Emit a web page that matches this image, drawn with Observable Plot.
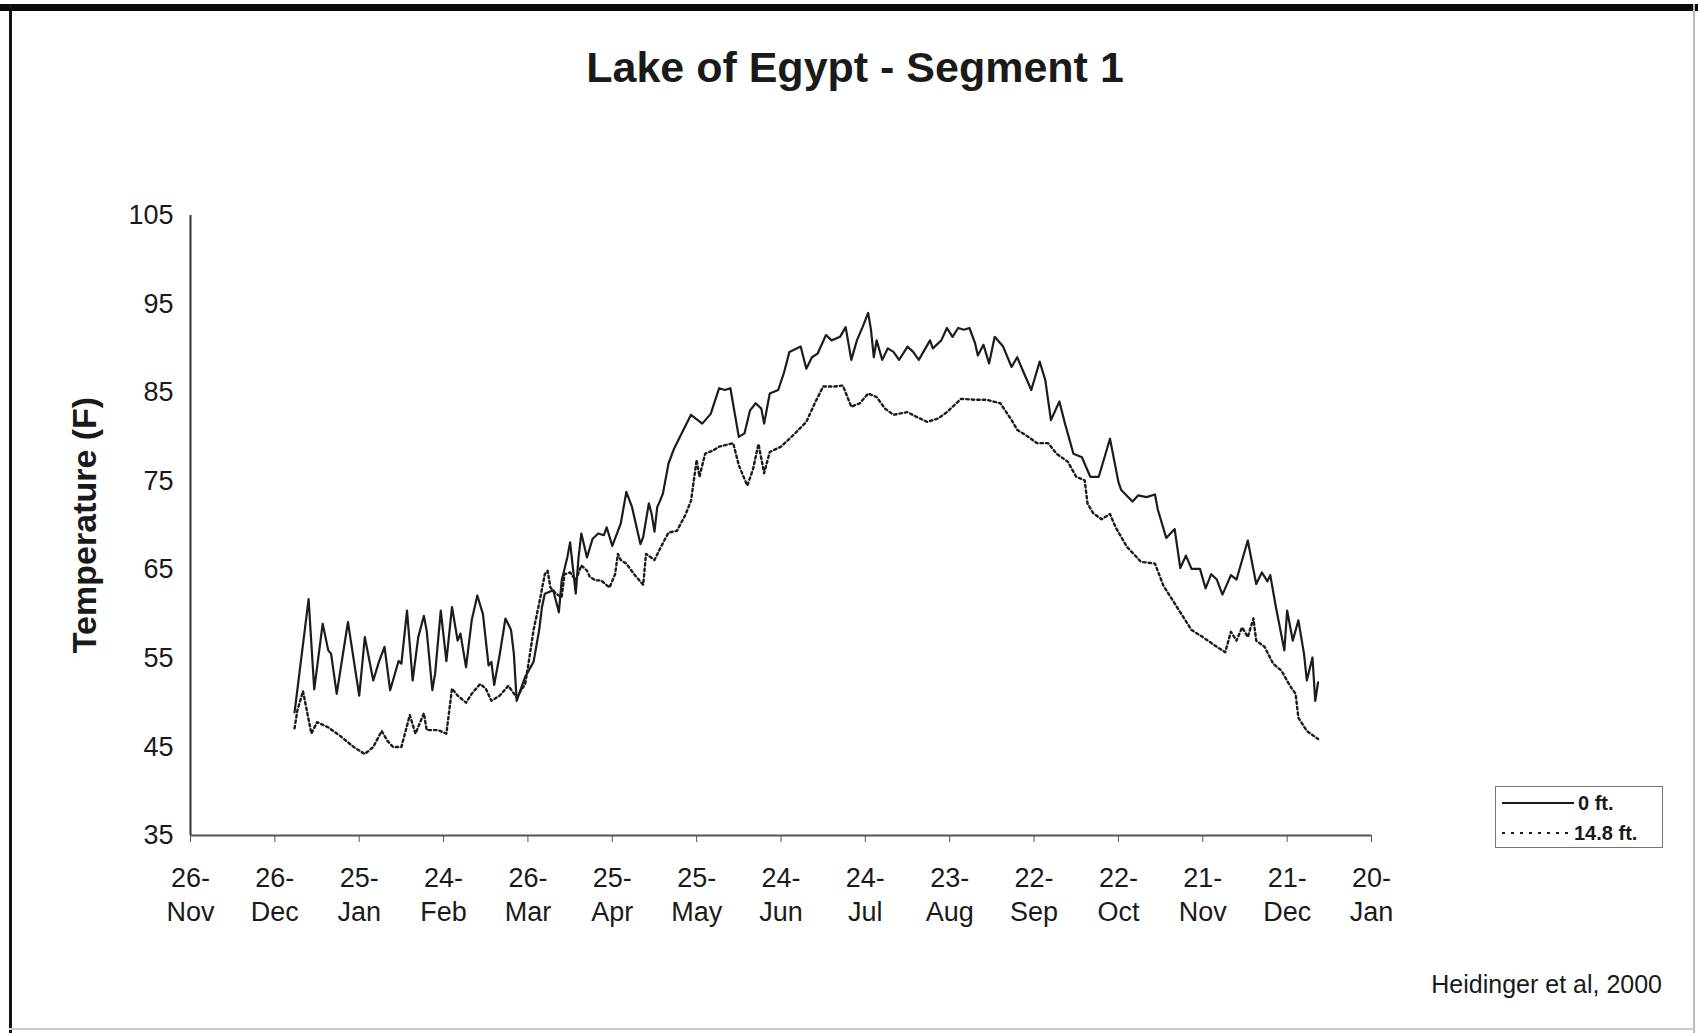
<!DOCTYPE html>
<html>
<head>
<meta charset="utf-8">
<script src="https://cdn.jsdelivr.net/npm/d3@7"></script>
<script src="https://cdn.jsdelivr.net/npm/@observablehq/plot@0.6"></script>
<style>
  html, body { margin: 0; padding: 0; background: #fff; }
  #page { position: relative; width: 1698px; height: 1033px; overflow: hidden; background: #fff;
          font-family: "Liberation Sans", Arial, sans-serif; color: #1a1a1a; }
  #chart { position: absolute; left: 0; top: 0; }
  .frame-top { position: absolute; left: 0; top: 4px; width: 1698px; height: 7px; background: #0a0a0a; }
  .frame-left { position: absolute; left: 9px; top: 4px; width: 3px; height: 1029px; background: #111; }
  .frame-right { position: absolute; left: 1693px; top: 4px; width: 2px; height: 1029px; background: #bbb; }
  .frame-bottom { position: absolute; left: 9px; top: 1028px; width: 1686px; height: 2px; background: #ccc; }
  #title { position: absolute; left: 855px; top: 43px; transform: translateX(-50%); white-space: nowrap;
           font-weight: bold; font-size: 43px; color: #1a1a1a; }
  #ytitle { position: absolute; left: 84px; top: 525px; transform: translate(-50%, -50%) rotate(-90deg);
            white-space: nowrap; font-weight: bold; font-size: 34px; color: #1a1a1a; }
  #legend { position: absolute; left: 1495px; top: 786px; width: 168px; height: 62px; box-sizing: border-box;
            border: 1.5px solid #777; background: #fff; }
  .lg-row { position: absolute; left: 5px; display: flex; align-items: center; height: 24px; }
  .lg-row span { font-weight: bold; font-size: 20px; color: #1a1a1a; margin-left: 3px; }
  #caption { position: absolute; right: 36px; top: 970px; white-space: nowrap; font-size: 25px; color: #1a1a1a; }
</style>
</head>
<body>
<div id="page">
  <div id="chart"></div>
  <div class="frame-top"></div>
  <div class="frame-left"></div>
  <div class="frame-right"></div>
  <div class="frame-bottom"></div>
  <div id="title">Lake of Egypt - Segment 1</div>
  <div id="ytitle">Temperature (F)</div>
  <div id="legend">
    <div class="lg-row" style="top:4px"><svg width="74" height="10"><line x1="1" y1="5" x2="73" y2="5" stroke="#1a1a1a" stroke-width="2"/></svg><span>0 ft.</span></div>
    <div class="lg-row" style="top:34px"><svg width="70" height="10"><line x1="1" y1="5" x2="69" y2="5" stroke="#1a1a1a" stroke-width="2" stroke-dasharray="3,6"/></svg><span>14.8 ft.</span></div>
  </div>
  <div id="caption">Heidinger et al, 2000</div>
</div>
<script>
// ---- Data ----
const seriesNames = ["0 ft.", "14.8 ft."];

const dates0 = ["1999-01-02","1999-01-07","1999-01-09","1999-01-12","1999-01-14","1999-01-15","1999-01-17","1999-01-21","1999-01-25","1999-01-27","1999-01-30",
"1999-02-01","1999-02-03","1999-02-05","1999-02-08","1999-02-09","1999-02-11","1999-02-13","1999-02-15","1999-02-17","1999-02-18","1999-02-20","1999-02-21","1999-02-23","1999-02-25","1999-02-27",
"1999-03-01","1999-03-02","1999-03-04","1999-03-06","1999-03-08","1999-03-10","1999-03-12","1999-03-13","1999-03-14","1999-03-16","1999-03-18","1999-03-20","1999-03-21","1999-03-22","1999-03-25","1999-03-28","1999-03-30","1999-03-31",
"1999-04-01","1999-04-04","1999-04-06","1999-04-07","1999-04-09","1999-04-10","1999-04-12","1999-04-13","1999-04-14","1999-04-16","1999-04-18","1999-04-20","1999-04-22","1999-04-23","1999-04-25","1999-04-28","1999-04-30",
"1999-05-02","1999-05-05","1999-05-06","1999-05-08","1999-05-09","1999-05-10","1999-05-11","1999-05-12","1999-05-13","1999-05-15","1999-05-17","1999-05-20","1999-05-23","1999-05-27","1999-05-30",
"1999-06-02","1999-06-04","1999-06-06","1999-06-09","1999-06-11","1999-06-13","1999-06-15","1999-06-17","1999-06-18","1999-06-20","1999-06-23","1999-06-25","1999-06-27",
"1999-07-01","1999-07-03","1999-07-05","1999-07-07","1999-07-10","1999-07-12","1999-07-15","1999-07-17","1999-07-19","1999-07-21","1999-07-23","1999-07-25","1999-07-26","1999-07-27","1999-07-28","1999-07-30",
"1999-08-01","1999-08-03","1999-08-05","1999-08-08","1999-08-10","1999-08-12","1999-08-16","1999-08-17","1999-08-20","1999-08-22","1999-08-24","1999-08-26","1999-08-28","1999-08-30",
"1999-09-01","1999-09-02","1999-09-04","1999-09-06","1999-09-08","1999-09-11","1999-09-14","1999-09-16","1999-09-18","1999-09-21","1999-09-24","1999-09-26","1999-09-28",
"1999-10-01","1999-10-03","1999-10-06","1999-10-09","1999-10-12","1999-10-15","1999-10-19","1999-10-22","1999-10-23","1999-10-27","1999-10-29",
"1999-11-01","1999-11-04","1999-11-05","1999-11-08","1999-11-11","1999-11-13","1999-11-15","1999-11-17","1999-11-20","1999-11-22","1999-11-24","1999-11-26","1999-11-28",
"1999-12-01","1999-12-03","1999-12-07","1999-12-10","1999-12-12","1999-12-14","1999-12-15","1999-12-17","1999-12-20","1999-12-21","1999-12-23","1999-12-25","1999-12-27","1999-12-28","1999-12-30","1999-12-31","2000-01-01"];
const temp0 = [48.9,61.7,51.5,58.9,55.9,55.5,51.0,59.1,50.8,57.4,52.5,
54.6,56.3,51.4,54.7,54.4,60.4,52.5,57.4,59.8,58.1,51.4,53.3,60.4,54.7,60.8,
57.0,57.8,54.0,59.3,62.1,60.0,54.2,54.6,52.0,55.5,59.5,58.2,55.5,50.2,52.9,54.6,58.2,60.8,
62.3,62.7,60.2,63.8,66.4,68.1,62.3,66.4,69.1,66.4,68.5,69.1,68.9,69.8,67.7,70.2,73.8,
72.1,67.9,68.7,72.5,71.3,69.3,72.1,72.8,73.6,77.0,78.7,80.6,82.5,81.5,82.6,
85.5,85.3,85.5,80.0,80.4,83.0,83.8,83.2,81.5,84.9,85.3,87.2,89.6,
90.2,87.7,89.0,89.4,91.5,90.9,91.3,92.4,88.7,90.9,92.4,94.0,92.1,89.0,90.9,88.7,
90.0,89.6,88.7,90.2,89.6,88.7,90.9,90.0,90.9,92.3,91.3,92.3,92.1,92.3,
90.6,89.2,90.4,88.3,91.3,90.2,87.9,89.0,87.5,85.3,88.5,86.4,81.9,
84.0,81.5,78.1,77.7,75.5,75.5,79.8,74.9,74.0,72.7,73.4,
73.2,73.5,71.8,68.6,69.6,65.2,66.6,65.1,65.1,62.9,64.5,63.9,62.2,
64.4,63.9,68.3,63.4,64.7,63.7,64.4,60.8,55.9,60.4,57.0,59.3,55.5,52.5,55.1,50.2,52.3];

const dates148 = ["1999-01-02","1999-01-03","1999-01-05","1999-01-08","1999-01-10","1999-01-14","1999-01-18","1999-01-23","1999-01-27","1999-01-30",
"1999-02-02","1999-02-04","1999-02-06","1999-02-09","1999-02-12","1999-02-14","1999-02-17","1999-02-18","1999-02-22","1999-02-25","1999-02-27",
"1999-03-01","1999-03-04","1999-03-06","1999-03-09","1999-03-11","1999-03-13","1999-03-16","1999-03-19","1999-03-22","1999-03-25","1999-03-26","1999-03-28","1999-03-30",
"1999-04-01","1999-04-02","1999-04-03","1999-04-05","1999-04-07","1999-04-08","1999-04-10","1999-04-12","1999-04-14","1999-04-16","1999-04-17","1999-04-19","1999-04-21","1999-04-24","1999-04-26","1999-04-27","1999-04-28","1999-04-30",
"1999-05-03","1999-05-06","1999-05-07","1999-05-10","1999-05-12","1999-05-15","1999-05-18","1999-05-21","1999-05-23","1999-05-25","1999-05-26","1999-05-28","1999-05-31",
"1999-06-02","1999-06-07","1999-06-09","1999-06-12","1999-06-14","1999-06-16","1999-06-18","1999-06-20","1999-06-24","1999-06-29",
"1999-07-03","1999-07-06","1999-07-09","1999-07-13","1999-07-16","1999-07-19","1999-07-22","1999-07-25","1999-07-28","1999-07-31",
"1999-08-03","1999-08-08","1999-08-11","1999-08-15","1999-08-19","1999-08-22","1999-08-27",
"1999-09-01","1999-09-05","1999-09-10","1999-09-14","1999-09-16","1999-09-20","1999-09-23","1999-09-27","1999-09-30",
"1999-10-04","1999-10-07","1999-10-10","1999-10-11","1999-10-13","1999-10-16","1999-10-19","1999-10-21","1999-10-25","1999-10-30",
"1999-11-04","1999-11-07","1999-11-11","1999-11-14","1999-11-17","1999-11-21","1999-11-26","1999-11-29",
"1999-12-01","1999-12-03","1999-12-05","1999-12-07","1999-12-09","1999-12-10","1999-12-13","1999-12-16","1999-12-19","1999-12-22","1999-12-24","1999-12-25","1999-12-28","2000-01-01"];
const temp148 = [47.1,49.1,51.3,46.5,47.8,47.2,46.3,45.0,44.2,45.0,
46.8,45.7,45.0,45.0,48.6,46.5,48.8,46.9,46.9,46.5,51.6,
50.8,50.0,51.0,52.1,51.6,50.2,50.8,51.9,50.6,52.1,54.0,58.2,61.2,
64.5,64.9,63.0,62.3,61.9,64.5,64.7,63.8,65.5,64.9,64.2,63.8,63.8,63.0,64.5,66.8,66.1,65.7,
64.4,63.3,66.8,66.1,67.4,69.2,69.4,71.2,72.8,77.4,75.5,78.1,78.5,
78.9,79.3,76.8,74.5,76.3,79.2,75.9,78.3,78.9,80.4,
81.7,83.8,85.7,85.7,85.8,83.4,83.8,84.9,84.5,83.2,
82.5,82.8,82.3,81.7,82.1,82.8,84.3,
84.2,84.2,83.8,81.9,80.8,80.0,79.3,79.3,78.1,
77.2,75.5,75.1,72.5,71.4,70.7,71.3,69.8,67.6,65.9,
65.7,63.2,61.2,59.7,58.2,57.4,56.3,55.7,
58.0,57.0,58.5,57.4,59.5,57.0,56.3,54.4,53.6,51.9,51.0,48.3,46.8,45.9];

// Axis definitions
const xDomain = ["1998-11-26", "2000-01-20"];
const xTickDates = ["1998-11-26","1998-12-26","1999-01-25","1999-02-24","1999-03-26","1999-04-25","1999-05-25","1999-06-24","1999-07-24","1999-08-23","1999-09-22","1999-10-22","1999-11-21","1999-12-21","2000-01-20"];
const xTickLabels = ["26-\nNov","26-\nDec","25-\nJan","24-\nFeb","26-\nMar","25-\nApr","25-\nMay","24-\nJun","24-\nJul","23-\nAug","22-\nSep","22-\nOct","21-\nNov","21-\nDec","20-\nJan"];
const yDomain = [35, 105];
const yTicks = [35, 45, 55, 65, 75, 85, 95, 105];

// ---- Build ----
const parse = d3.utcParse("%Y-%m-%d");
const rows0 = dates0.map((d, i) => ({date: parse(d), temp: temp0[i], series: seriesNames[0]}));
const rows148 = dates148.map((d, i) => ({date: parse(d), temp: temp148[i], series: seriesNames[1]}));
const ticks = xTickDates.map(parse);
const labelByTime = new Map(ticks.map((t, i) => [+t, xTickLabels[i]]));
const dom = xDomain.map(parse);

const chart = Plot.plot({
  width: 1698,
  height: 1033,
  marginLeft: 190,
  marginRight: 327,
  marginTop: 215,
  marginBottom: 198,
  style: {fontFamily: "'Liberation Sans', Arial, sans-serif", color: "#1a1a1a", background: "transparent"},
  x: {type: "utc", domain: dom},
  y: {domain: yDomain},
  marks: [
    Plot.axisX(ticks, {
      tickSize: 7, tickPadding: 21, fontSize: 27, lineHeight: 1.24,
      tickFormat: (d) => labelByTime.get(+d), label: null, stroke: "#555"
    }),
    Plot.axisY(yTicks, {tickSize: 0, tickPadding: 17, fontSize: 27, label: null}),
    Plot.ruleY([yDomain[0]], {stroke: "#555", strokeWidth: 2}),
    Plot.ruleX([dom[0]], {stroke: "#333", strokeWidth: 2}),
    Plot.line(rows0, {x: "date", y: "temp", stroke: "#1c1c1c", strokeWidth: 2.2}),
    Plot.line(rows148, {x: "date", y: "temp", stroke: "#1c1c1c", strokeWidth: 2.4, strokeDasharray: "2.5,3"})
  ]
});
document.getElementById("chart").appendChild(chart);
</script>
</body>
</html>
